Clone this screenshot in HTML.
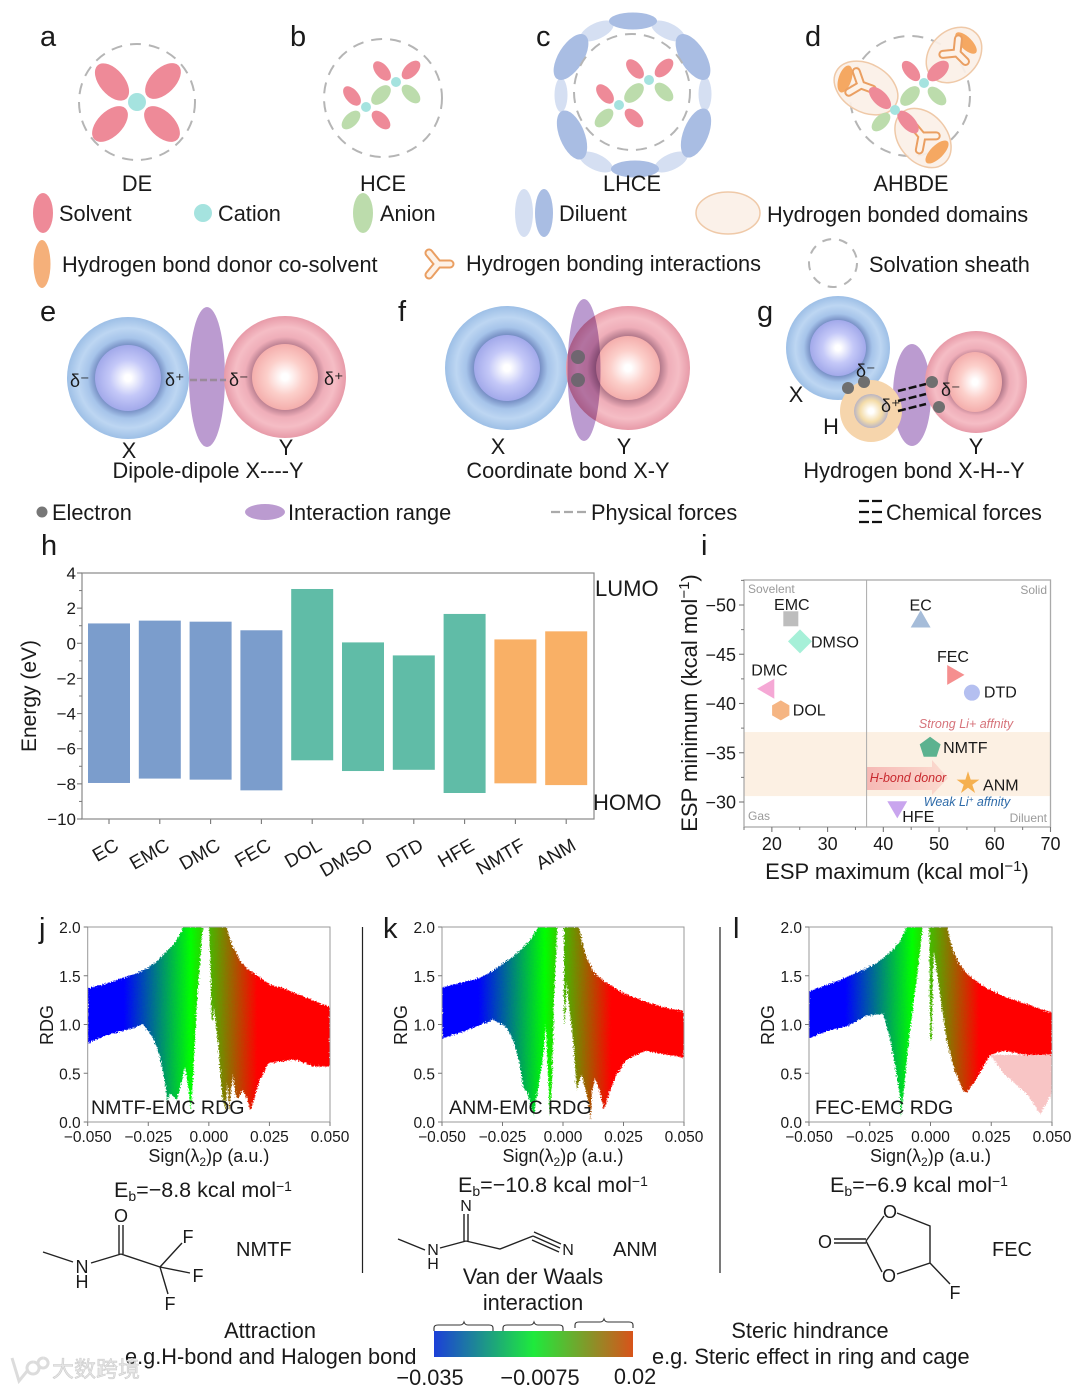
<!DOCTYPE html>
<html lang="en">
<head>
<meta charset="utf-8">
<title>Solvation structures and electrolyte interaction figure</title>
<style>
html,body{margin:0;padding:0;background:#fff;}
#figure{display:block;width:1080px;height:1388px;font-family:"Liberation Sans","Noto Sans CJK SC",sans-serif;fill:#1a1a1a;}
.pink{fill:#ee8a98}.green{fill:#bcdcac}.cat{fill:#a5e3df}.dk{fill:#a9bde3}.lt{fill:#d5dff2}.org{fill:#f5a862}
.sheath{fill:none;stroke:#b5b5b5;stroke-width:2;stroke-dasharray:11 8}
.dom{fill:#fbf0e7;stroke:#efc9a8;stroke-width:1.5;fill-opacity:.92}
.t22{font-size:21.75px}.t28{font-size:29px}.t20{font-size:20px}.t18{font-size:18px}
.bond{stroke:#222;stroke-width:1.4;fill:none}
.hb1{stroke:#ea9f62;stroke-width:9;stroke-linecap:round;fill:none}
.hb2{stroke:#fdf2e8;stroke-width:5;stroke-linecap:round;fill:none}
</style>
</head>
<body>
<svg id="figure" xmlns="http://www.w3.org/2000/svg" width="1080" height="1388" viewBox="0 0 1080 1388">
<defs>
<radialGradient id="blueOuter"><stop offset="0.52" stop-color="#7189c0"/><stop offset="0.66" stop-color="#a6c4ea"/><stop offset="0.82" stop-color="#bdd6f2"/><stop offset="1" stop-color="#9dbfe6"/></radialGradient>
<radialGradient id="blueInner"><stop offset="0.1" stop-color="#fff"/><stop offset="0.55" stop-color="#c4c8f8"/><stop offset="1" stop-color="#a2a9ea"/></radialGradient>
<radialGradient id="redOuter"><stop offset="0.52" stop-color="#b47a8c"/><stop offset="0.66" stop-color="#efaeb9"/><stop offset="0.82" stop-color="#f5bdc5"/><stop offset="1" stop-color="#e79aa8"/></radialGradient>
<radialGradient id="redInner"><stop offset="0.1" stop-color="#fff"/><stop offset="0.55" stop-color="#fccfca"/><stop offset="1" stop-color="#f4aeac"/></radialGradient>
<radialGradient id="orangeInner"><stop offset="0.15" stop-color="#fff"/><stop offset="0.65" stop-color="#f4dca8"/><stop offset="1" stop-color="#b9b4c4"/></radialGradient>
<linearGradient id="cbarGrad" x1="0" x2="1" y1="0" y2="0"><stop offset="0" stop-color="#1c3fd8"/><stop offset="0.5" stop-color="#1eea3c"/><stop offset="1" stop-color="#d8531a"/></linearGradient>
<linearGradient id="arrowGrad" x1="0" x2="1" y1="0" y2="0"><stop offset="0" stop-color="#f6b9b5"/><stop offset="1" stop-color="#fbdcd0"/></linearGradient>
<filter id="rough" x="-5%" y="-5%" width="110%" height="110%" color-interpolation-filters="sRGB"><feTurbulence type="fractalNoise" baseFrequency="0.7" numOctaves="2" seed="3" result="n"/><feDisplacementMap in="SourceGraphic" in2="n" scale="5" xChannelSelector="R" yChannelSelector="G"/></filter>
<g id="hbondGlyph"><path d="M-11 -9 L0 0 L11 -9 M0 0 L0 12"/></g>
</defs>

<!-- panel letters -->
<g class="t28">
<text x="40" y="46">a</text>
<text x="290" y="46">b</text>
<text x="536" y="46">c</text>
<text x="805" y="46">d</text>
<text x="40" y="321">e</text>
<text x="398" y="321">f</text>
<text x="757" y="321">g</text>
<text x="41" y="555">h</text>
<text x="701" y="555">i</text>
<text x="39" y="938">j</text>
<text x="383" y="938">k</text>
<text x="733" y="938">l</text>
</g>

<!-- a -->
<g>
<circle class="sheath" cx="137" cy="102" r="58"/>
<ellipse class="pink" cx="112" cy="82" rx="22" ry="12.5" transform="rotate(50 112 82)"/>
<ellipse class="pink" cx="163" cy="81" rx="22" ry="12.5" transform="rotate(-45 163 81)"/>
<ellipse class="pink" cx="110" cy="124" rx="22" ry="12.5" transform="rotate(-45 110 124)"/>
<ellipse class="pink" cx="162" cy="124" rx="22" ry="12.5" transform="rotate(45 162 124)"/>
<circle class="cat" cx="137" cy="102" r="9"/>
<text class="t22" x="137" y="191" text-anchor="middle">DE</text>
</g>

<!-- b -->
<g>
<circle class="sheath" cx="383" cy="98" r="59"/>
<ellipse class="pink" cx="382" cy="71" rx="11.5" ry="6.5" transform="rotate(50 382 71)"/>
<ellipse class="pink" cx="411" cy="70" rx="11.5" ry="6.5" transform="rotate(-45 411 70)"/>
<ellipse class="green" cx="411" cy="94" rx="11.5" ry="6.5" transform="rotate(45 411 94)"/>
<ellipse class="green" cx="381" cy="95" rx="12" ry="7" transform="rotate(-45 381 95)"/>
<ellipse class="pink" cx="352" cy="96" rx="11.5" ry="6.5" transform="rotate(50 352 96)"/>
<ellipse class="pink" cx="381" cy="120" rx="11.5" ry="6.5" transform="rotate(45 381 120)"/>
<ellipse class="green" cx="351" cy="120" rx="11.5" ry="6.5" transform="rotate(-45 351 120)"/>
<circle class="cat" cx="396" cy="82" r="5"/>
<circle class="cat" cx="366" cy="107" r="5"/>
<text class="t22" x="383" y="191" text-anchor="middle">HCE</text>
</g>

<!-- c -->
<g>
<ellipse class="lt" cx="597" cy="31" rx="18" ry="8" transform="rotate(-25 597 31)"/>
<ellipse class="lt" cx="668" cy="31" rx="18" ry="8" transform="rotate(25 668 31)"/>
<ellipse class="lt" cx="561" cy="95" rx="17" ry="6.5" transform="rotate(90 561 95)"/>
<ellipse class="lt" cx="705" cy="94" rx="17" ry="6.5" transform="rotate(90 705 94)"/>
<ellipse class="lt" cx="596" cy="162" rx="18" ry="8" transform="rotate(25 596 162)"/>
<ellipse class="lt" cx="671" cy="162" rx="18" ry="8" transform="rotate(-25 671 162)"/>
<ellipse class="dk" cx="633" cy="21" rx="24" ry="8.5"/>
<ellipse class="dk" cx="635" cy="169" rx="24" ry="8.5"/>
<ellipse class="dk" cx="571" cy="57" rx="26" ry="12.5" transform="rotate(-58 571 57)"/>
<ellipse class="dk" cx="693" cy="57" rx="26" ry="12.5" transform="rotate(58 693 57)"/>
<ellipse class="dk" cx="572" cy="135" rx="26" ry="12.5" transform="rotate(68 572 135)"/>
<ellipse class="dk" cx="696" cy="133" rx="26" ry="12.5" transform="rotate(-68 696 133)"/>
<circle class="sheath" cx="632" cy="92" r="58"/>
<ellipse class="pink" cx="635" cy="69" rx="11.5" ry="6.5" transform="rotate(50 635 69)"/>
<ellipse class="pink" cx="664" cy="68" rx="11.5" ry="6.5" transform="rotate(-45 664 68)"/>
<ellipse class="green" cx="664" cy="92" rx="11.5" ry="6.5" transform="rotate(45 664 92)"/>
<ellipse class="green" cx="634" cy="93" rx="12" ry="7" transform="rotate(-45 634 93)"/>
<ellipse class="pink" cx="605" cy="94" rx="11.5" ry="6.5" transform="rotate(50 605 94)"/>
<ellipse class="pink" cx="634" cy="118" rx="11.5" ry="6.5" transform="rotate(45 634 118)"/>
<ellipse class="green" cx="604" cy="118" rx="11.5" ry="6.5" transform="rotate(-45 604 118)"/>
<circle class="cat" cx="649" cy="80" r="5"/>
<circle class="cat" cx="619" cy="105" r="5"/>
<text class="t22" x="632" y="191" text-anchor="middle">LHCE</text>
</g>

<!-- d -->
<g>
<circle class="sheath" cx="910" cy="96" r="60"/>
<ellipse class="dom" cx="954" cy="55" rx="31" ry="24" transform="rotate(-45 954 55)"/>
<ellipse class="dom" cx="866" cy="88" rx="34" ry="24" transform="rotate(30 866 88)"/>
<ellipse class="dom" cx="923" cy="138" rx="33" ry="24" transform="rotate(50 923 138)"/>
<ellipse class="org" cx="966" cy="43" rx="14" ry="6" transform="rotate(45 966 43)"/>
<ellipse class="org" cx="845" cy="79" rx="14" ry="6.5" transform="rotate(-72 845 79)"/>
<ellipse class="org" cx="937" cy="152" rx="15" ry="6.5" transform="rotate(-45 937 152)"/>
<g transform="translate(957 53) rotate(-45)"><use class="hb1" href="#hbondGlyph"/><use class="hb2" href="#hbondGlyph"/></g>
<g transform="translate(861 85) rotate(-70)"><use class="hb1" href="#hbondGlyph"/><use class="hb2" href="#hbondGlyph"/></g>
<g transform="translate(922 136) rotate(140)"><use class="hb1" href="#hbondGlyph"/><use class="hb2" href="#hbondGlyph"/></g>
<ellipse class="pink" cx="911" cy="71" rx="12" ry="6.5" transform="rotate(50 911 71)"/>
<ellipse class="pink" cx="938" cy="71" rx="13" ry="7.5" transform="rotate(-42 938 71)"/>
<ellipse class="green" cx="937" cy="96" rx="11.5" ry="6.5" transform="rotate(45 937 96)"/>
<ellipse class="green" cx="910" cy="96" rx="12" ry="7" transform="rotate(-45 910 96)"/>
<ellipse class="pink" cx="880" cy="98" rx="14" ry="7" transform="rotate(45 880 98)"/>
<ellipse class="pink" cx="908" cy="122" rx="14" ry="7" transform="rotate(48 908 122)"/>
<ellipse class="green" cx="881" cy="122" rx="11.5" ry="6.5" transform="rotate(-45 881 122)"/>
<circle class="cat" cx="924" cy="83" r="5"/>
<circle class="cat" cx="895" cy="110" r="5"/>
<text class="t22" x="911" y="191" text-anchor="middle">AHBDE</text>
</g>

<!-- legend top -->
<g class="t22">
<ellipse class="pink" cx="43" cy="213" rx="10" ry="20"/>
<text x="59" y="221">Solvent</text>
<circle class="cat" cx="203" cy="213" r="9"/>
<text x="218" y="221">Cation</text>
<ellipse class="green" cx="363" cy="213" rx="10" ry="20"/>
<text x="380" y="221">Anion</text>
<ellipse class="lt" cx="524" cy="213" rx="9" ry="24"/>
<ellipse class="dk" cx="544" cy="213" rx="9" ry="24"/>
<text x="559" y="221">Diluent</text>
<ellipse class="dom" cx="728" cy="213" rx="32" ry="21"/>
<text x="767" y="222">Hydrogen bonded domains</text>
<ellipse class="org" cx="42" cy="264" rx="8.5" ry="24" style="fill:#f5b07a"/>
<text x="62" y="272">Hydrogen bond donor co-solvent</text>
<g transform="translate(438 264) rotate(-90)"><use class="hb1" href="#hbondGlyph"/><use class="hb2" href="#hbondGlyph"/></g>
<text x="466" y="271">Hydrogen bonding interactions</text>
<circle class="sheath" cx="833" cy="263" r="24" style="stroke-dasharray:9 8"/>
<text x="869" y="272">Solvation sheath</text>
</g>

<!-- e -->
<g>
<ellipse cx="207" cy="377" rx="18" ry="70" fill="#bb9bd0"/>
<circle cx="128" cy="378" r="61" fill="url(#blueOuter)"/>
<circle cx="128" cy="378" r="33" fill="url(#blueInner)"/>
<circle cx="285" cy="377" r="61" fill="url(#redOuter)"/>
<circle cx="285" cy="377" r="33" fill="url(#redInner)"/>
<line x1="190" y1="380" x2="226" y2="380" stroke="#9a8a9a" stroke-width="2.5" stroke-dasharray="7 3"/>
<text class="t18" x="70" y="387">δ⁻</text>
<text class="t18" x="165" y="386">δ⁺</text>
<text class="t18" x="229" y="386">δ⁻</text>
<text class="t18" x="324" y="385">δ⁺</text>
<text class="t22" x="129" y="458" text-anchor="middle">X</text>
<text class="t22" x="286" y="455" text-anchor="middle">Y</text>
<text class="t22" x="208" y="478" text-anchor="middle">Dipole-dipole X----Y</text>
</g>

<!-- f -->
<g>
<circle cx="507" cy="368" r="62" fill="url(#blueOuter)"/>
<circle cx="507" cy="368" r="33" fill="url(#blueInner)"/>
<circle cx="628" cy="368" r="62" fill="url(#redOuter)"/>
<circle cx="628" cy="368" r="32" fill="url(#redInner)"/>
<ellipse cx="584" cy="370" rx="16.5" ry="71" fill="#bb9bd0" style="mix-blend-mode:multiply"/>
<circle cx="578" cy="357" r="7" fill="#6f6670"/>
<circle cx="578" cy="380" r="7" fill="#6f6670"/>
<text class="t22" x="498" y="454" text-anchor="middle">X</text>
<text class="t22" x="624" y="454" text-anchor="middle">Y</text>
<text class="t22" x="568" y="478" text-anchor="middle">Coordinate bond X-Y</text>
</g>

<!-- g -->
<g>
<circle cx="838" cy="348" r="52" fill="url(#blueOuter)"/>
<circle cx="838" cy="348" r="28" fill="url(#blueInner)"/>
<ellipse cx="912" cy="395" rx="19" ry="51" fill="#bb9bd0"/>
<circle cx="976" cy="382" r="51" fill="url(#redOuter)"/>
<ellipse cx="975" cy="382" rx="27" ry="30" fill="url(#redInner)"/>
<circle cx="871" cy="411" r="31" fill="#f6d5ac"/>
<circle cx="871" cy="411" r="17" fill="url(#orangeInner)"/>
<circle cx="848" cy="388" r="6" fill="#6f6f6f"/>
<circle cx="864" cy="382" r="6" fill="#6f6f6f"/>
<circle cx="932" cy="382" r="6" fill="#6f6f6f"/>
<circle cx="939" cy="407" r="6" fill="#6f6f6f"/>
<g stroke="#111" stroke-width="2.5" stroke-dasharray="8 3">
<line x1="898" y1="391" x2="926" y2="384"/>
<line x1="898" y1="401" x2="926" y2="394"/>
<line x1="898" y1="411" x2="926" y2="404"/>
</g>
<text class="t18" x="856" y="377">δ⁻</text>
<text class="t18" x="881" y="412">δ⁺</text>
<text class="t18" x="941" y="396">δ⁻</text>
<text class="t22" x="796" y="402" text-anchor="middle">X</text>
<text class="t22" x="831" y="434" text-anchor="middle">H</text>
<text class="t22" x="976" y="454" text-anchor="middle">Y</text>
<text class="t22" x="914" y="478" text-anchor="middle">Hydrogen bond X-H--Y</text>
</g>

<!-- legend middle -->
<g class="t22">
<circle cx="42" cy="512" r="5.5" fill="#777"/>
<text x="52" y="520">Electron</text>
<ellipse cx="265" cy="512" rx="20" ry="8" fill="#bb9bd0"/>
<text x="288" y="520">Interaction range</text>
<line x1="551" y1="512" x2="586" y2="512" stroke="#aaa" stroke-width="2.2" stroke-dasharray="9 4"/>
<text x="591" y="520">Physical forces</text>
<g stroke="#111" stroke-width="2.2" stroke-dasharray="10 3">
<line x1="859" y1="501" x2="882" y2="501"/>
<line x1="859" y1="512" x2="882" y2="512"/>
<line x1="859" y1="522" x2="882" y2="522"/>
</g>
<text x="886" y="520">Chemical forces</text>
</g>

<g id="chartH"></g>
<g id="chartI"></g>
<g id="chartJ"></g>
<g id="chartK"></g>
<g id="chartL"></g>

<line x1="362.5" y1="927" x2="362.5" y2="1273" stroke="#222" stroke-width="1.2"/>
<line x1="720" y1="927" x2="720" y2="1273" stroke="#222" stroke-width="1.2"/>

<!-- binding energies -->
<g style="font-size:21.5px">
<text x="114" y="1197">E<tspan dy="4" font-size="14">b</tspan><tspan dy="-4">=−8.8 kcal mol</tspan><tspan dy="-6" font-size="14">−1</tspan></text>
<text x="458" y="1192">E<tspan dy="4" font-size="14">b</tspan><tspan dy="-4">=−10.8 kcal mol</tspan><tspan dy="-6" font-size="14">−1</tspan></text>
<text x="830" y="1192">E<tspan dy="4" font-size="14">b</tspan><tspan dy="-4">=−6.9 kcal mol</tspan><tspan dy="-6" font-size="14">−1</tspan></text>
</g>

<!-- NMTF molecule -->
<g class="t18">
<path class="bond" d="M43 1252L73 1262M91 1263L121 1254M119 1254V1225M123 1254V1225M121 1254L160 1267M160 1267L182 1243M160 1267L190 1273M160 1267L168 1294"/>
<text x="121" y="1222" text-anchor="middle">O</text>
<text x="82" y="1273" text-anchor="middle">N</text>
<text x="82" y="1288" text-anchor="middle">H</text>
<text x="188" y="1243" text-anchor="middle">F</text>
<text x="198" y="1282" text-anchor="middle">F</text>
<text x="170" y="1310" text-anchor="middle">F</text>
<text class="t20" x="236" y="1256">NMTF</text>
</g>
<!-- ANM molecule -->
<g style="font-size:16px">
<path class="bond" d="M398 1239L425 1250M440 1248L466 1241M464 1241V1214M468 1241V1214M466 1241L500 1249L533 1236M533 1236L560 1248M534 1232L561 1244M532 1240L559 1252"/>
<text x="466" y="1211" text-anchor="middle">N</text>
<text x="433" y="1255" text-anchor="middle">N</text>
<text x="433" y="1269" text-anchor="middle">H</text>
<text x="568" y="1255" text-anchor="middle">N</text>
<text class="t20" x="613" y="1256">ANM</text>
</g>
<!-- FEC molecule -->
<g class="t18">
<path class="bond" d="M866 1241L884 1216M897 1213L930 1226L930 1263L897 1274M882 1272L866 1241M834 1239H866M834 1243H866M930 1263L950 1284"/>
<text x="890" y="1218" text-anchor="middle">O</text>
<text x="889" y="1282" text-anchor="middle">O</text>
<text x="825" y="1248" text-anchor="middle">O</text>
<text x="955" y="1299" text-anchor="middle">F</text>
<text class="t20" x="992" y="1256">FEC</text>
</g>

<!-- colour bar -->
<g class="t22">
<text x="533" y="1284" text-anchor="middle">Van der Waals</text>
<text x="533" y="1310" text-anchor="middle">interaction</text>
<text x="270" y="1338" text-anchor="middle">Attraction</text>
<text x="125" y="1364">e.g.H-bond and Halogen bond</text>
<text x="810" y="1338" text-anchor="middle">Steric hindrance</text>
<text x="652" y="1364">e.g. Steric effect in ring and cage</text>
<rect x="434" y="1331" width="199" height="26" fill="url(#cbarGrad)"/>
<path fill="none" stroke="#333" stroke-width="1.1" d="M434 1331V1328Q434 1325 438 1325H460Q463 1325 464 1322Q465 1325 468 1325H489Q493 1325 493 1328V1331"/>
<path fill="none" stroke="#333" stroke-width="1.1" d="M503 1331V1328Q503 1325 507 1325H530Q533 1325 534 1322Q535 1325 538 1325H559Q563 1325 563 1328V1331"/>
<path fill="none" stroke="#333" stroke-width="1.1" d="M575 1328V1325Q575 1322 579 1322H600Q603 1322 604 1319Q605 1322 608 1322H629Q633 1322 633 1325V1328"/>
<text x="430" y="1385" text-anchor="middle">−0.035</text>
<text x="540" y="1385" text-anchor="middle">−0.0075</text>
<text x="635" y="1384" text-anchor="middle">0.02</text>
</g>

<!-- watermark -->
<g fill="#e4e4e4" stroke="#c9c9c9" stroke-width=".5">
<path d="M12 1358L19 1381L28 1370M33 1362a6 6 0 1 0 .1 0M43 1358a5 5 0 1 0 .1 0" fill="none" stroke="#dcdcdc" stroke-width="3"/>
<text x="52" y="1377" font-size="22" style="font-family:'Liberation Sans','Noto Sans CJK SC',sans-serif">大数跨境</text>
</g>
</svg>

<script>
/* ---------- Panel h data ---------- */
const energyCategories = ['EC','EMC','DMC','FEC','DOL','DMSO','DTD','HFE','NMTF','ANM'];
const lumoValues = [1.13,1.29,1.23,0.74,3.09,0.05,-0.69,1.67,0.22,0.68];
const homoValues = [-7.95,-7.7,-7.76,-8.37,-6.66,-7.27,-7.2,-8.52,-7.97,-8.07];
const energyGroups = ['solvent','solvent','solvent','solvent','ether','ether','ether','ether','donor','donor'];
const energyTicks = [4,2,0,-2,-4,-6,-8,-10];

/* ---------- Panel i data ---------- */
const espNames = ['EMC','DMSO','DMC','DOL','EC','FEC','DTD','NMTF','ANM','HFE'];
const espMaxValues = [23.4,25.05,19.4,21.6,46.7,52.5,55.9,48.4,55.2,42.5];
const espMinValues = [-48.6,-46.3,-41.5,-39.3,-48.3,-42.9,-41.1,-35.5,-31.9,-29.5];
const espXTicks = [20,30,40,50,60,70];
const espYTicks = [-50,-45,-40,-35,-30];

/* ---------- Panels j, k, l data: RDG scatter envelope ---------- */
const rdgXTicks = [-0.05,-0.025,0,0.025,0.05];
const rdgYTicks = [0,0.5,1,1.5,2];
const rdgColorPositions = [-0.035,-0.0075,0.02];

const jNegX = [-.05,-.046,-.0422,-.038,-.0339,-.0295,-.025,-.021,-.0174,-.0145,-.0125,-.0106,-.0026,-.0051,-.0065,-.0074,-.0085,-.0099,-.012,-.0133,-.0161,-.0172,-.0181,-.0202,-.0229,-.0271,-.0339,-.0422,-.05];
const jNegY = [1.37,1.395,1.42,1.455,1.49,1.53,1.58,1.66,1.75,1.82,1.9,2,2,1.15,.47,.11,.36,.57,.33,.23,.29,.21,.4,.67,.86,1,.945,.89,.81];
const jPosX = [.0001,.0073,.0095,.0128,.0155,.0183,.0251,.032,.0389,.05,.05,.043,.0361,.0293,.0245,.021,.019,.0172,.0155,.0139,.0121,.0111,.0098,.0084,.0076,.0069,.0055,.0038,.0021,.0018,.0011,.0007];
const jPosY = [2,2,1.82,1.66,1.58,1.53,1.41,1.36,1.29,1.18,.57,.57,.64,.62,.6,.43,.26,.12,.26,.33,.24,.26,.5,.11,.4,.12,.26,.81,1.18,1.05,1.05,1.6];
const jSparseX = [];
const jSparseY = [];

const kNegX = [-.05,-.042,-.0343,-.029,-.0247,-.0205,-.0164,-.0135,-.0102,-.0023,-.0037,-.0045,-.0054,-.0058,-.0072,-.0081,-.0109,-.012,-.015,-.0164,-.0178,-.0205,-.0233,-.0288,-.0412,-.05];
const kNegY = [1.38,1.43,1.48,1.55,1.63,1.7,1.79,1.87,2,2,1.27,.42,.06,.28,1.0,.69,.25,.07,.32,.35,.59,.83,.97,1.05,.925,.86];
const kPosX = [.0004,.0066,.0084,.0102,.0125,.015,.018,.0249,.0346,.0428,.05,.05,.0428,.0346,.0304,.0263,.0222,.0194,.0169,.0152,.0132,.0118,.0114,.0105,.0077,.0056,.0043,.0029,.0015,.0008,.0004];
const kPosY = [2,2,1.79,1.66,1.55,1.48,1.43,1.32,1.23,1.17,1.14,.66,.69,.73,.69,.64,.49,.315,.13,.315,.45,.28,.02,.21,.49,.33,.83,1.1,1.45,1,1];
const kSparseX = [];
const kSparseY = [];

const lNegX = [-.05,-.0401,-.0305,-.026,-.0222,-.0185,-.0153,-.0122,-.0098,-.0032,-.0057,-.0085,-.0112,-.0122,-.0126,-.0146,-.0167,-.0195,-.0263,-.0346,-.0428,-.05];
const lNegY = [1.34,1.43,1.53,1.58,1.63,1.7,1.77,1.87,2,2,1.45,.93,.28,.06,.28,.59,.86,1.11,1.09,.98,.93,.86];
const lPosX = [-.0005,.0067,.0094,.0115,.0136,.0175,.0218,.0301,.0383,.05,.05,.0397,.0301,.0246,.0218,.0184,.0149,.0135,.0101,.0067,.0039,.0014,.0009,.0005,-.0001];
const lPosY = [2,2,1.75,1.64,1.56,1.47,1.39,1.29,1.22,1.12,.69,.69,.73,.69,.57,.42,.3,.32,.52,.83,1.31,1.75,1.4,.85,.85];
const lSparseX = [.0246,.03,.04,.0452,.05,.05];
const lSparseY = [.69,.5,.28,.08,.3,.69];

/* ---------- helpers ---------- */
const NS = 'http://www.w3.org/2000/svg';
function make(tag, attrs, parent){
  const n = document.createElementNS(NS, tag);
  for (const k in attrs) n.setAttribute(k, attrs[k]);
  parent.appendChild(n);
  return n;
}
function minus(s){ return String(s).replace('-', '\u2212'); }

/* ---------- Panel h ---------- */
(function(){
  const g = document.getElementById('chartH');
  const L = 82, R = 594, T = 573, B = 819;
  const yScale = v => B - (v + 10) * (B - T) / 14;
  const step = 50.8;
  const xCenter = i => 109 + i * step;
  const groupFill = {solvent:'#7b9dcc', ether:'#60bca7', donor:'#f9b066'};
  energyCategories.forEach(function(name, i){
    const top = yScale(lumoValues[i]);
    const bottom = yScale(homoValues[i]);
    const bar = make('rect', {x: xCenter(i) - 21, y: top, width: 42, height: bottom - top, fill: groupFill[energyGroups[i]]}, g);
    
    
    const tick = make('line', {x1: xCenter(i), x2: xCenter(i), y1: B, y2: B + 5, stroke: '#777', 'stroke-width': 1.1}, g);
    
    
    const lab = make('text', {x: xCenter(i) + 11, y: 849, 'text-anchor': 'end', 'font-size': 19, transform: 'rotate(-30 ' + (xCenter(i) + 11) + ' 849)'}, g);
    lab.textContent = name;
    
    
  });
  const frame = make('rect', {x: L, y: T, width: R - L, height: B - T, fill: 'none', stroke: '#888', 'stroke-width': 1.2}, g);
  
  
  energyTicks.forEach(function(v){
    const t = make('line', {x1: L - 5, x2: L, y1: yScale(v), y2: yScale(v), stroke: '#777', 'stroke-width': 1.1}, g);
    
    
    if (v > -10) {
      const m = make('line', {x1: L - 3, x2: L, y1: yScale(v - 1), y2: yScale(v - 1), stroke: '#777', 'stroke-width': 1}, g);
      
      
    }
    const lab = make('text', {x: 76, y: yScale(v) + 6, 'text-anchor': 'end', 'font-size': 17}, g);
    lab.textContent = minus(v);
    
    
  });
  const yt = make('text', {x: 36, y: 696, 'text-anchor': 'middle', 'font-size': 21, transform: 'rotate(-90 36 696)'}, g);
  yt.textContent = 'Energy (eV)';
  
  
  const lumo = make('text', {x: 595, y: 596, 'font-size': 22}, g);
  lumo.textContent = 'LUMO';
  
  
  const homo = make('text', {x: 593, y: 810, 'font-size': 22}, g);
  homo.textContent = 'HOMO';
  
  
})();

/* ---------- Panel i ---------- */
(function(){
  const g = document.getElementById('chartI');
  const L = 744, R = 1050.5, T = 580, B = 827;
  const xScale = v => L + (v - 15) * (R - L) / 55;
  const yScale = v => 605 + (v + 50) * 9.85;
  const band = make('rect', {x: L, y: yScale(-37.1), width: R - L, height: yScale(-30.6) - yScale(-37.1), fill: '#fcf0e3'}, g);
  
  
  const arrow = make('path', {d: 'M867 767H932V760L948 778L932 795V790H867Z', fill: 'url(#arrowGrad)'}, g);
  
  
  const vline = make('line', {x1: xScale(37), x2: xScale(37), y1: T, y2: B, stroke: '#aaa', 'stroke-width': 1}, g);
  
  
  const frame = make('rect', {x: L, y: T, width: R - L, height: B - T, fill: 'none', stroke: '#aaa', 'stroke-width': 1.3}, g);
  
  

  espXTicks.forEach(function(v){
    const t = make('line', {x1: xScale(v), x2: xScale(v), y1: B, y2: B + 5, stroke: '#777', 'stroke-width': 1.1}, g);
    
    
    const m = make('line', {x1: xScale(v - 5), x2: xScale(v - 5), y1: B, y2: B + 3, stroke: '#777', 'stroke-width': 1}, g);
    
    
    const lab = make('text', {x: xScale(v), y: 850, 'text-anchor': 'middle', 'font-size': 18}, g);
    lab.textContent = v;
    
    
  });
  espYTicks.forEach(function(v){
    const t = make('line', {x1: L - 5, x2: L, y1: yScale(v), y2: yScale(v), stroke: '#777', 'stroke-width': 1.1}, g);
    
    
    const m = make('line', {x1: L - 3, x2: L, y1: yScale(v - 2.5), y2: yScale(v - 2.5), stroke: '#777', 'stroke-width': 1}, g);
    
    
    const lab = make('text', {x: 736, y: yScale(v) + 6.5, 'text-anchor': 'end', 'font-size': 18}, g);
    lab.textContent = minus(v);
    
    
  });
  const xt = make('text', {x: 897, y: 879, 'text-anchor': 'middle', 'font-size': 22}, g);
  xt.innerHTML = 'ESP maximum (kcal mol<tspan dy="-8" font-size="15">\u22121</tspan><tspan dy="8">)</tspan>';
  
  
  const yt = make('text', {x: 697, y: 703, 'text-anchor': 'middle', 'font-size': 22, transform: 'rotate(-90 697 703)'}, g);
  yt.innerHTML = 'ESP minimum (kcal mol<tspan dy="-8" font-size="15">\u22121</tspan><tspan dy="8">)</tspan>';
  
  

  const markerStyle = {
    EMC:{shape:'square',fill:'#bdbdbd',dx:1,dy:-9,anchor:'middle'},
    DMSO:{shape:'diamond',fill:'#a6f0d8',dx:11,dy:6,anchor:'start'},
    DMC:{shape:'left',fill:'#f5a8d5',dx:1,dy:-13,anchor:'middle'},
    DOL:{shape:'hex',fill:'#f5b583',dx:12,dy:5,anchor:'start'},
    EC:{shape:'up',fill:'#a5bcd9',dx:0,dy:-11,anchor:'middle'},
    FEC:{shape:'right',fill:'#f58f8f',dx:0,dy:-13,anchor:'middle'},
    DTD:{shape:'circle',fill:'#b4bff0',dx:12,dy:5,anchor:'start'},
    NMTF:{shape:'pent',fill:'#5cb28f',dx:13,dy:5,anchor:'start'},
    ANM:{shape:'star',fill:'#f5b04f',dx:15,dy:7,anchor:'start'},
    HFE:{shape:'down',fill:'#c9a5ee',dx:5,dy:15,anchor:'start'}
  };
  function polygonPoints(kind, cx, cy){
    const r = 10;
    const ring = function(n, start, rad){
      const pts = [];
      for (let k = 0; k < n; k++){
        const a = start + k * 2 * Math.PI / n;
        pts.push((cx + (rad[k % rad.length]) * Math.cos(a)).toFixed(1) + ',' + (cy + (rad[k % rad.length]) * Math.sin(a)).toFixed(1));
      }
      return pts.join(' ');
    };
    if (kind === 'diamond') return ring(4, 0, [r + 2]);
    if (kind === 'up') return ring(3, -Math.PI / 2, [r + 1.5]);
    if (kind === 'down') return ring(3, Math.PI / 2, [r + 1.5]);
    if (kind === 'left') return ring(3, Math.PI, [r + 1.5]);
    if (kind === 'right') return ring(3, 0, [r + 1.5]);
    if (kind === 'hex') return ring(6, Math.PI / 6, [r]);
    if (kind === 'pent') return ring(5, -Math.PI / 2, [r + 1]);
    if (kind === 'star') return ring(10, -Math.PI / 2, [r + 2, 4.5]);
    return '';
  }
  espNames.forEach(function(name, i){
    const cx = xScale(espMaxValues[i]);
    const cy = yScale(espMinValues[i]);
    const st = markerStyle[name];
    let mark;
    if (st.shape === 'square') mark = make('rect', {x: cx - 7.5, y: cy - 7.5, width: 15, height: 15, fill: st.fill}, g);
    else if (st.shape === 'circle') mark = make('circle', {cx: cx, cy: cy, r: 8, fill: st.fill}, g);
    else mark = make('polygon', {points: polygonPoints(st.shape, cx, cy), fill: st.fill}, g);
    
    
    const lab = make('text', {x: cx + st.dx, y: cy + st.dy, 'text-anchor': st.anchor, 'font-size': 16}, g);
    lab.textContent = name;
    
    
  });

  const c1 = make('text', {x: 748, y: 593, 'font-size': 12, fill: '#9a9a9a'}, g);
  c1.textContent = 'Sovelent';
  
  
  const c2 = make('text', {x: 1047, y: 594, 'font-size': 12, 'text-anchor': 'end', fill: '#9a9a9a'}, g);
  c2.textContent = 'Solid';
  
  
  const c3 = make('text', {x: 748, y: 820, 'font-size': 12, fill: '#9a9a9a'}, g);
  c3.textContent = 'Gas';
  
  
  const c4 = make('text', {x: 1047, y: 822, 'font-size': 12, 'text-anchor': 'end', fill: '#9a9a9a'}, g);
  c4.textContent = 'Diluent';
  
  
  const a1 = make('text', {x: 966, y: 728, 'font-size': 12.5, 'font-style': 'italic', 'text-anchor': 'middle', fill: '#d6737a'}, g);
  a1.textContent = 'Strong Li+ affnity';
  
  
  const a2 = make('text', {x: 967, y: 806, 'font-size': 12.5, 'font-style': 'italic', 'text-anchor': 'middle', fill: '#2d6aa8'}, g);
  a2.innerHTML = 'Weak Li<tspan dy="-4" font-size="8">+</tspan><tspan dy="4"> affnity</tspan>';
  
  
  const a3 = make('text', {x: 908, y: 782, 'font-size': 12.5, 'font-style': 'italic', 'text-anchor': 'middle', fill: '#c8282e'}, g);
  a3.textContent = 'H-bond donor';
  
  
})();

/* ---------- Panels j, k, l ---------- */
function drawRdg(hostId, L, R, label, labelX, yTitleX, xs1, ys1, xs2, ys2, sparseX, sparseY){
  const g = document.getElementById(hostId);
  const T = 927, B = 1122;
  const xScale = v => L + (v + 0.05) * (R - L) / 0.1;
  const yScale = v => B - v * (B - T) / 2;
  const defs = make('defs', {}, g);
  const grad = make('linearGradient', {id: hostId + 'Grad', gradientUnits: 'userSpaceOnUse', x1: xScale(rdgColorPositions[0]), x2: xScale(rdgColorPositions[2]), y1: 0, y2: 0}, defs);
  make('stop', {offset: 0, 'stop-color': '#0000ff'}, grad);
  make('stop', {offset: (rdgColorPositions[1] - rdgColorPositions[0]) / (rdgColorPositions[2] - rdgColorPositions[0]), 'stop-color': '#00ff00'}, grad);
  make('stop', {offset: 1, 'stop-color': '#ff0000'}, grad);
  const clip = make('clipPath', {id: hostId + 'Clip'}, defs);
  make('rect', {x: L, y: T, width: R - L, height: B - T}, clip);

  const clipGroup = make('g', {'clip-path': 'url(#' + hostId + 'Clip)'}, g);
  
  
  const cloud = make('g', {filter: 'url(#rough)'}, clipGroup);
  
  

  const toPoints = (xs, ys) => xs.map((x, i) => xScale(x).toFixed(1) + ',' + yScale(ys[i]).toFixed(1)).join(' ');
  if (sparseX.length) {
    const sp = make('polygon', {points: toPoints(sparseX, sparseY), fill: '#e84040', opacity: 0.3}, cloud);
    
    
  }
  const neg = make('polygon', {points: toPoints(xs1, ys1), fill: 'url(#' + hostId + 'Grad)'}, cloud);
  
  
  const pos = make('polygon', {points: toPoints(xs2, ys2), fill: 'url(#' + hostId + 'Grad)'}, cloud);
  
  

  const frame = make('rect', {x: L, y: T, width: R - L, height: B - T, fill: 'none', stroke: '#999', 'stroke-width': 1}, g);
  
  

  rdgXTicks.forEach(function(v){
    const t = make('line', {x1: xScale(v), x2: xScale(v), y1: B, y2: B + 4, stroke: '#777', 'stroke-width': 1}, g);
    
    
    const lab = make('text', {x: xScale(v), y: 1142, 'text-anchor': 'middle', 'font-size': 15.5}, g);
    lab.textContent = (v < 0 ? '\u2212' : '') + Math.abs(v).toFixed(3);
    
    
  });
  rdgYTicks.forEach(function(v){
    const t = make('line', {x1: L - 4, x2: L, y1: yScale(v), y2: yScale(v), stroke: '#777', 'stroke-width': 1}, g);
    
    
    const lab = make('text', {x: L - 7, y: yScale(v) + 6, 'text-anchor': 'end', 'font-size': 15.5}, g);
    lab.textContent = v.toFixed(1);
    
    
  });
  const yt = make('text', {x: yTitleX, y: 1025, 'text-anchor': 'middle', 'font-size': 18, transform: 'rotate(-90 ' + yTitleX + ' 1025)'}, g);
  yt.textContent = 'RDG';
  
  
  const xt = make('text', {x: (L + R) / 2, y: 1162, 'text-anchor': 'middle', 'font-size': 18}, g);
  xt.innerHTML = 'Sign(\u03BB<tspan dy="4" font-size="12">2</tspan><tspan dy="-4">)\u03C1 (a.u.)</tspan>';
  
  
  const inner = make('text', {x: labelX, y: 1114, 'font-size': 19.6}, g);
  inner.textContent = label;
  
  
}
drawRdg('chartJ', 87.7, 330, 'NMTF-EMC RDG', 91, 53, jNegX, jNegY, jPosX, jPosY, jSparseX, jSparseY);
drawRdg('chartK', 442, 684, 'ANM-EMC RDG', 449, 407, kNegX, kNegY, kPosX, kPosY, kSparseX, kSparseY);
drawRdg('chartL', 809, 1052, 'FEC-EMC RDG', 815, 774, lNegX, lNegY, lPosX, lPosY, lSparseX, lSparseY);
</script>
</body>
</html>
